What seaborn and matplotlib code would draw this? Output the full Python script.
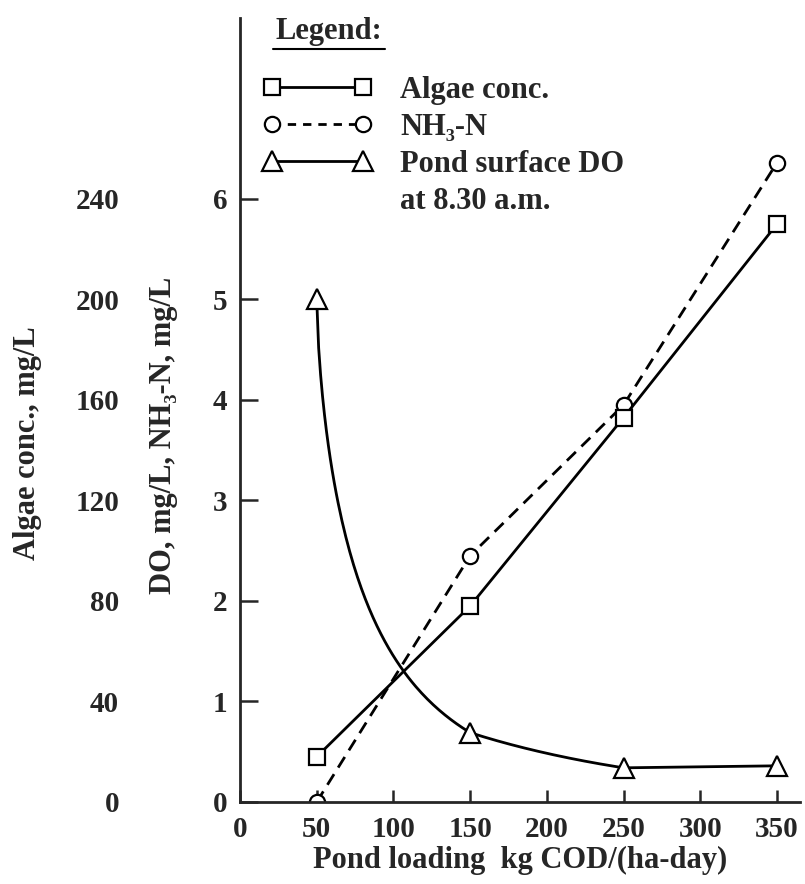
import numpy as np
import pandas as pd
import seaborn as sns
import matplotlib.pyplot as plt
from matplotlib.lines import Line2D

# pond loading, kg COD/(ha-day)
loading = [50, 150, 250, 350]
algae = [18, 78, 153, 230]         # algae conc., mg/L
nh3_n = [0.0, 2.45, 3.95, 6.36]    # NH3-N, mg/L
do_830 = [5.0, 0.69, 0.34, 0.36]   # pond surface DO at 8.30 a.m., mg/L

x_ticks = [0, 50, 100, 150, 200, 250, 300, 350]
do_ticks = [0, 1, 2, 3, 4, 5, 6]
algae_ticks = [0, 40, 80, 120, 160, 200, 240]

sns.set_theme(style="ticks")
plt.rcParams['font.family'] = ['Liberation Serif', 'DejaVu Serif']
plt.rcParams['font.weight'] = 'bold'
plt.rcParams['axes.labelweight'] = 'bold'
plt.rcParams['font.size'] = 22

# smooth DO curve through the measured points (log space, eased first bend)
bend = [0.68, 1.0, 1.0]
cx, cy = [], []
for i in range(len(loading) - 1):
    t = np.linspace(0, 1, 80)
    f = t ** bend[i]
    y0, y1 = np.log(do_830[i]), np.log(do_830[i + 1])
    cx.append(loading[i] + t * (loading[i + 1] - loading[i]))
    cy.append(np.exp(y0 + f * (y1 - y0)))
curve = pd.DataFrame({'x': np.concatenate(cx), 'y': np.concatenate(cy)})

fig = plt.figure(figsize=(8.05, 8.84), dpi=100)
ax = fig.add_axes([240 / 805, 82 / 884, 560 / 805, 784 / 884])
ax2 = ax.twinx()

lw = 2.0
mk = dict(markerfacecolor='white', markeredgecolor='black', markeredgewidth=1.6)

sns.lineplot(x=curve['x'], y=curve['y'], ax=ax, color='black', linewidth=lw,
             estimator=None, sort=False)
sns.lineplot(x=loading, y=do_830, ax=ax, color='black', linestyle='',
             marker='^', markersize=14, **mk)
sns.lineplot(x=loading, y=nh3_n, ax=ax, color='black', linewidth=lw,
             linestyle=(0, (4.5, 2.8)), marker='o', markersize=11, **mk)
sns.lineplot(x=loading, y=algae, ax=ax2, color='black', linewidth=lw,
             marker='s', markersize=11, **mk)

ax.set_xlim(0, 365)
ax.set_ylim(0, 7.8)
ax2.set_ylim(0, 7.8 * 40)
ax.set_xticks(x_ticks)
ax.set_yticks(do_ticks)
ax2.set_yticks(algae_ticks)

for a in (ax, ax2):
    a.spines['top'].set_visible(False)
    a.spines['right'].set_visible(False)
ax.spines['left'].set_linewidth(2)
ax.spines['bottom'].set_linewidth(2)
ax.tick_params(axis='y', direction='in', length=13, width=1.8, pad=9, labelsize=21)
ax.tick_params(axis='x', direction='in', length=9, width=1.8, pad=10, labelsize=21)

ax2.yaxis.tick_left()
ax2.yaxis.set_label_position('left')
ax2.spines['left'].set_position(('outward', 87))
ax2.spines['left'].set_visible(False)
ax2.spines['bottom'].set_visible(False)
ax2.tick_params(axis='y', length=0, pad=0, labelsize=21)

ax.set_xlabel('Pond loading  kg COD/(ha-day)', fontsize=22)
ax.xaxis.set_label_coords(0.5, -0.075)
ax.xaxis.label.set(va='center')

ax.set_ylabel('DO, mg/L, NH\u2083-N, mg/L', fontsize=22)
ax.yaxis.set_label_coords(-0.1375, 0.468)
ax.yaxis.label.set(va='center', ha='center', rotation_mode='anchor')

ax2.set_ylabel('Algae conc., mg/L', fontsize=22)
ax2.yaxis.set_label_coords(-0.380, 0.458)
ax2.yaxis.label.set(va='center', ha='center', rotation_mode='anchor')

# legend
handles = [
    Line2D([], [], color='black', lw=lw, marker='s', markersize=11, **mk),
    Line2D([], [], color='black', lw=lw, linestyle=(0, (3, 2.5)), marker='o', markersize=11, **mk),
    Line2D([], [], color='black', lw=lw, marker='^', markersize=14, **mk),
    Line2D([], [], linestyle='', marker=''),
]
labels = ['Algae conc.', 'NH\u2083-N', 'Pond surface DO', 'at 8.30 a.m.']
leg = ax.legend(handles, labels, loc='upper left',
                bbox_to_anchor=((263 - 240) / 560, (802 - 76) / 784),
                frameon=False, numpoints=2, handlelength=3.58, handletextpad=0.91,
                labelspacing=0.26, borderpad=0, borderaxespad=0, fontsize=22)
ax.text((275 - 240) / 560, (802 - 31) / 784, 'Legend:', transform=ax.transAxes,
        ha='left', va='center', fontsize=22, fontweight='bold')
ax.plot([(273 - 240) / 560, (385 - 240) / 560], [(802 - 49) / 784] * 2,
        transform=ax.transAxes, color='black', lw=1.5, clip_on=False)

fig.savefig('out.png', dpi=100)
